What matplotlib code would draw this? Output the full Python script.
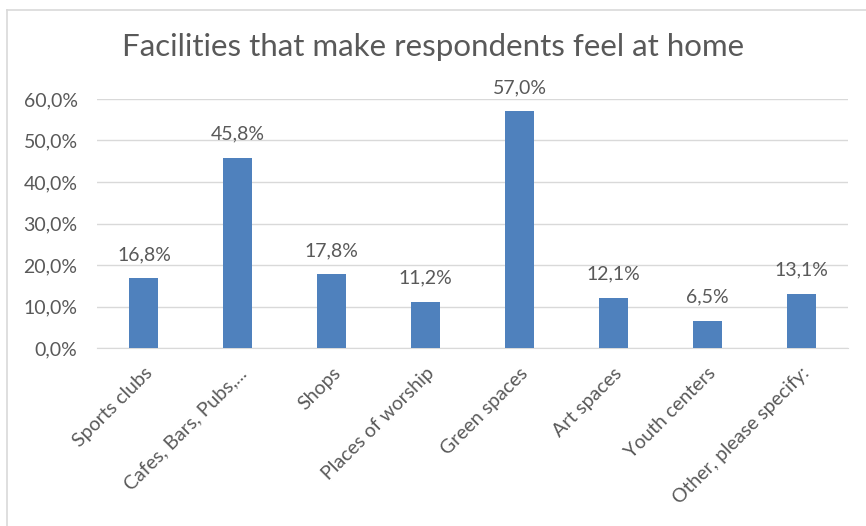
import matplotlib.pyplot as plt
from matplotlib.lines import Line2D
from matplotlib.ticker import FuncFormatter

categories = ['Sports clubs', 'Cafes, Bars, Pubs,...', 'Shops', 'Places of worship',
              'Green spaces', 'Art spaces', 'Youth centers', 'Other, please specify:']
values = [16.8, 45.8, 17.8, 11.2, 57.0, 12.1, 6.5, 13.1]
y_ticks = [0, 10, 20, 30, 40, 50, 60]

text_color = '#595959'
plt.rcParams['font.family'] = ['Lato', 'DejaVu Sans']

fig = plt.figure(figsize=(8.66, 5.26), dpi=100)
ax = fig.add_axes([97 / 866, 1 - 348 / 526, 751 / 866, 249 / 526])

x = range(len(categories))
ax.bar(x, values, width=0.31, color='#4F81BD', zorder=3)

# підписи значень над стовпцями
for i, v in zip(x, values):
    ax.text(i, v + 5.7, f'{v:.1f}%'.replace('.', ','), ha='center', va='center',
            fontsize=14, color=text_color)

ax.set_xlim(-0.5, len(categories) - 0.5)
ax.set_ylim(0, 60)
ax.set_yticks(y_ticks)
ax.yaxis.set_major_formatter(FuncFormatter(lambda v, p: f'{v:.1f}%'.replace('.', ',')))
ax.set_xticks(list(x))
ax.set_xticklabels(categories, rotation=45, ha='right', rotation_mode='anchor')
ax.tick_params(axis='both', length=0, labelsize=14, colors=text_color)
ax.tick_params(axis='y', pad=14)
ax.tick_params(axis='x', pad=12)

ax.grid(axis='y', color='#D9D9D9', linewidth=1, zorder=0)
for s in ['top', 'right', 'left']:
    ax.spines[s].set_visible(False)
ax.spines['bottom'].set_color('#D9D9D9')

fig.text(0.5, 1 - 47 / 526, 'Facilities that make respondents feel at home',
         ha='center', va='center', fontsize=22.5, color=text_color)

# рамка діаграми (видно лише верх і ліво)
fig.add_artist(Line2D([7 / 866, 1], [1 - 10 / 526, 1 - 10 / 526], color='#D9D9D9', lw=1.2))
fig.add_artist(Line2D([7 / 866, 7 / 866], [0, 1 - 10 / 526], color='#D9D9D9', lw=1.2))

fig.savefig('out.png', dpi=100)
